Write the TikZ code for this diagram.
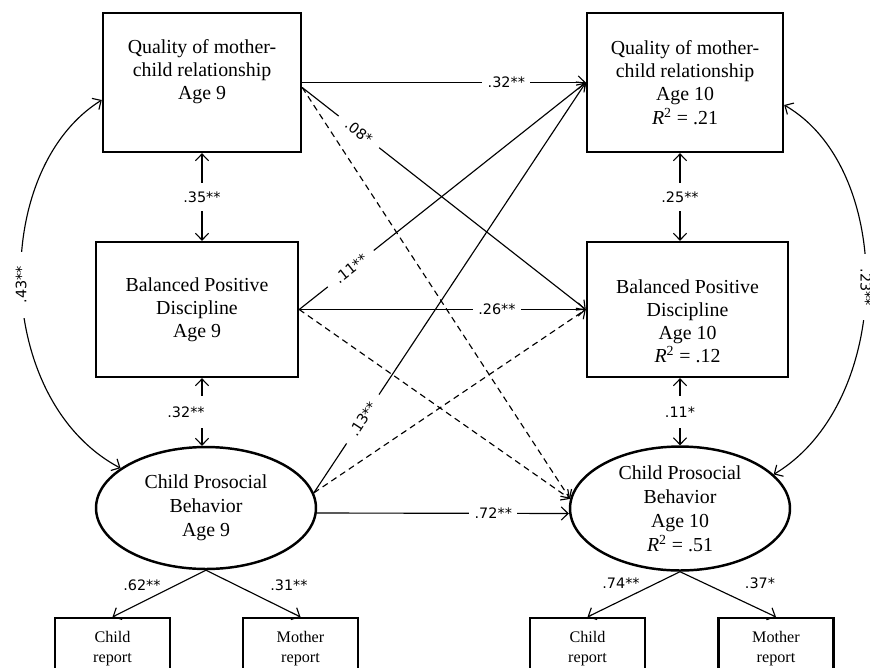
\documentclass[tikz,border=0pt]{standalone}
\usepackage{fontspec}
\setmainfont{Liberation Serif}
\newfontfamily\coeffont{DejaVu Sans}
\usetikzlibrary{shapes.geometric,arrows.meta}

\begin{document}
\begin{tikzpicture}[
  x=0.02cm, y=-0.02cm,
  >={Straight Barb[length=3.8pt,width=7.5pt]},
  construct/.style={draw,line width=1.4pt,rectangle,inner sep=0pt,font=\fontsize{11.3}{13.2}\selectfont},
  latent/.style={draw,line width=1.4pt,ellipse,inner sep=0pt,minimum width=4.4cm,minimum height=2.44cm,font=\fontsize{11.3}{13.6}\selectfont},
  indicator/.style={draw,line width=1.2pt,rectangle,inner sep=0pt,minimum width=2.3cm,minimum height=1.24cm,font=\fontsize{9.2}{11.3}\selectfont},
  coef/.style={font=\coeffont\fontsize{8.2}{10}\selectfont,fill=white,inner sep=3pt},
  lbl/.style={font=\coeffont\fontsize{8.2}{10}\selectfont,inner sep=1pt},
  effect/.style={->,line width=0.65pt},
  nseffect/.style={->,line width=0.65pt,dash pattern=on 3.5pt off 2.5pt},
  corr/.style={<->,line width=0.65pt},
  every node/.style={align=center}]

  \useasboundingbox (0,0) rectangle (870,667);
  \clip (0,0) rectangle (870,667);

  % age 9 constructs
  \node[construct,minimum width=3.96cm,minimum height=2.78cm] (qL9) at (202,82.5)
    {Quality of mother-\\child relationship\\Age 9\rule[-14.5pt]{0pt}{14.5pt}};
  \node[construct,minimum width=4.04cm,minimum height=2.7cm] (bpL9) at (197,309.5)
    {Balanced Positive\\Discipline\\Age 9};
  \node[latent] (cpL9) at (206,508) {Child Prosocial\\Behavior\\Age 9};

  % age 10 constructs
  \node[construct,minimum width=3.92cm,minimum height=2.78cm] (qR10) at (685,82.5)
    {Quality of mother-\\child relationship\\Age 10\\\textit{R}\textsuperscript{2} = .21};
  \node[construct,minimum width=4.02cm,minimum height=2.7cm] (bpR10) at (687.5,309.5)
    {\rule{0pt}{21pt}Balanced Positive\\Discipline\\Age 10\\\textit{R}\textsuperscript{2} = .12};
  \node[latent,minimum height=2.48cm] (cpR10) at (680,508.5)
    {Child Prosocial\\Behavior\\Age 10\\\textit{R}\textsuperscript{2} = .51};

  % indicators
  \node[indicator] (cL9) at (112.5,649) {Child\\report};
  \node[indicator] (mL9) at (300.5,649) {Mother\\report};
  \node[indicator] (cR10) at (587.5,649) {Child\\report};
  \node[indicator] (mR10) at (776,649) {Mother\\report};

  % cross-lagged and stability paths
  \draw[nseffect] ([yshift=-0.1cm]qL9.east) -- (cpR10.175);
  \draw[nseffect] (bpL9.east) -- (cpR10.175);
  \draw[nseffect] (cpL9.8) -- (bpR10.west);

  \draw[effect] (qL9.east) -- node[coef,pos=0.72] (b1) {.32**} (qR10.west);
  \draw[effect] ([yshift=-0.1cm]qL9.east) -- node[coef,sloped,pos=0.2,inner xsep=6pt] (b2) {.08*} (bpR10.west);
  \draw[effect] (bpL9.east) -- node[coef,sloped,pos=0.18,inner xsep=6pt] (b4) {.11**} (qR10.west);
  \draw[effect] (bpL9.east) -- node[coef,pos=0.69] (b5) {.26**} (bpR10.west);
  \draw[effect] (cpL9.8) -- node[coef,sloped,pos=0.18,inner xsep=6pt] (b7) {.13**} (qR10.west);
  \draw[effect] ([yshift=-0.1cm]cpL9.east) -- node[coef,pos=0.7] (b9) {.72**} ([yshift=-0.1cm]cpR10.west);

  % within-time correlations
  \draw[corr] (qL9.south) -- node[coef,inner ysep=5pt] (r1) {.35**} (qL9.south |- bpL9.north);
  \draw[corr] (bpL9.south -| qL9.south) -- node[coef,inner ysep=6pt,xshift=-0.32cm] (r2) {.32**} (cpL9.north -| qL9.south);
  \draw[corr] (cpR10.north |- qR10.south) -- node[coef,inner ysep=5pt] (r3) {.25**} (cpR10.north |- bpR10.north);
  \draw[corr] (cpR10.north |- bpR10.south) -- node[coef,inner ysep=6pt] (r4) {.11*} (cpR10.north);

  \draw[corr] ([yshift=-0.35cm]qL9.west) .. controls +(-112,70) and +(-128,-68) ..
    node[coef,rotate=90,inner xsep=8pt] (r5) {.43**} (cpL9.155);
  \draw[corr] ([yshift=-0.45cm]qR10.east) .. controls +(112,65) and +(120,-72) ..
    node[coef,rotate=-90,inner xsep=8pt] (r6) {.23**} (cpR10.20);

  % measurement model
  \draw[effect] (cpL9.south) -- (cL9.north);
  \draw[effect] (cpL9.south) -- (mL9.north);
  \draw[effect] (cpR10.south) -- (cR10.north);
  \draw[effect] (cpR10.south) -- (mR10.north);
  \node[lbl] (l1) at (142,585) {.62**};
  \node[lbl] (l2) at (289,585) {.31**};
  \node[lbl] (l3) at (621,583) {.74**};
  \node[lbl] (l4) at (760,583) {.37*};
\end{tikzpicture}
\end{document}
